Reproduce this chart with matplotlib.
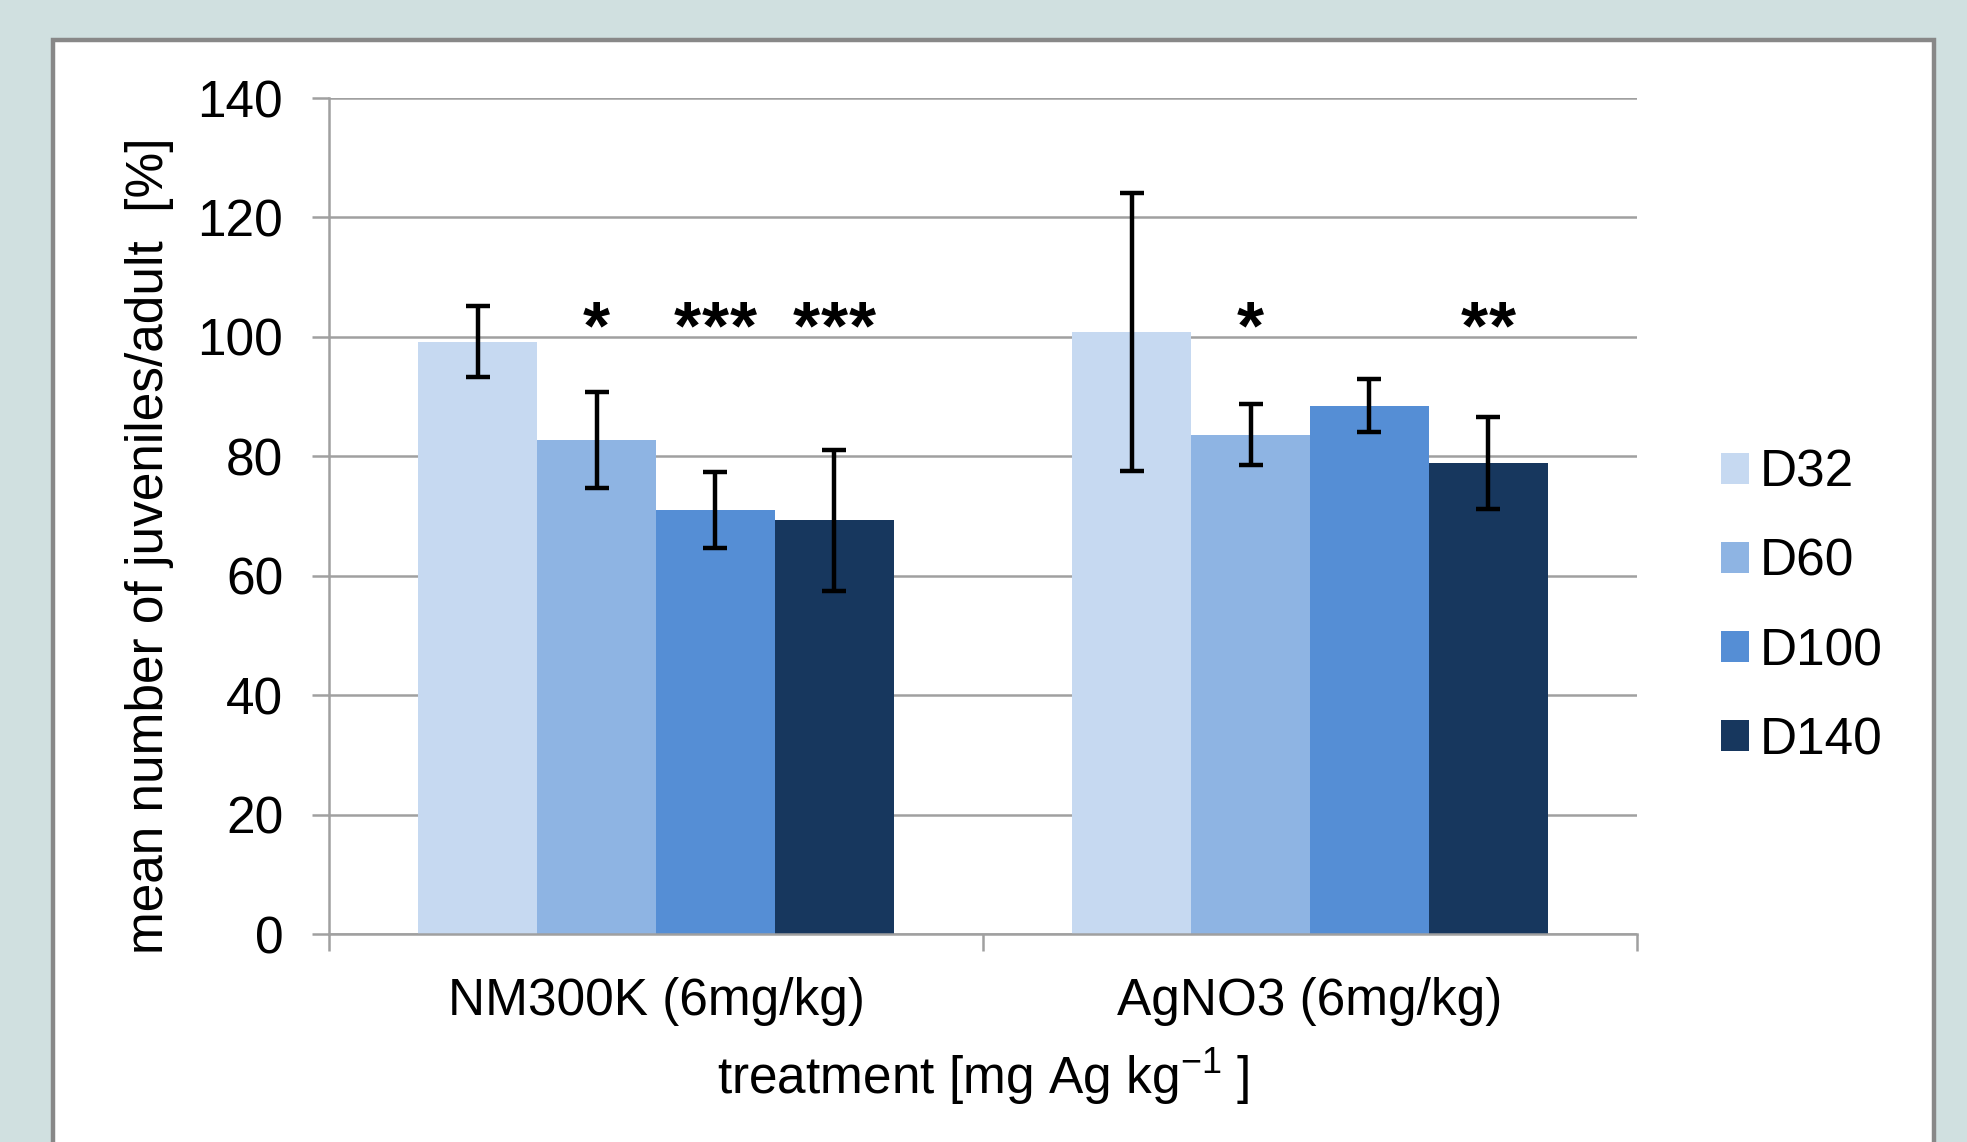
import numpy as np
import matplotlib.pyplot as plt
from matplotlib.patches import Rectangle

plt.rcParams['font.family'] = ['Liberation Sans', 'DejaVu Sans']

# data
treatments = ['NM300K (6mg/kg)', 'AgNO3 (6mg/kg)']
series = ['D32', 'D60', 'D100', 'D140']
means = {
    'D32': [99.2, 100.8],
    'D60': [82.7, 83.6],
    'D100': [71.0, 88.5],
    'D140': [69.3, 78.9],
}
errors = {
    'D32': [6.0, 23.3],
    'D60': [8.0, 5.1],
    'D100': [6.3, 4.4],
    'D140': [11.8, 7.7],
}
# significance marks, per treatment, per series
stars = {
    'D32': ['', ''],
    'D60': ['*', '*'],
    'D100': ['***', ''],
    'D140': ['***', '**'],
}
star_level = 98
yticks = [0, 20, 40, 60, 80, 100, 120, 140]

colors = ['#C6D9F1', '#8EB4E3', '#558ED5', '#17375E']
grey = '#A0A0A0'

W, H = 1967, 1142
fig = plt.figure(figsize=(W / 100, H / 100), dpi=100, facecolor='#D0E0E0')

# white panel with grey border
panel = Rectangle((53 / W, -0.05), (1934 - 53) / W, (H - 40) / H + 0.05,
                  transform=fig.transFigure, facecolor='white',
                  edgecolor='#888888', linewidth=3.2, zorder=-10)
fig.patches.append(panel)

ax = fig.add_axes([329 / W, 1 - 934 / H, (1637 - 329) / W, (934 - 98) / H])
ax.set_facecolor('none')

x = np.arange(len(treatments))
w = 1 / 5.5
step = 20  # spacing between asterisks, points
for i, s in enumerate(series):
    pos = x + (i - 1.5) * w
    ax.bar(pos, means[s], w, color=colors[i], label=s, zorder=2)
    ax.errorbar(pos, means[s], yerr=errors[s], fmt='none', ecolor='black',
                elinewidth=3.2, capsize=8.5, capthick=3.2, zorder=3)
    for p, txt in zip(pos, stars[s]):
        n = len(txt)
        for k, ch in enumerate(txt):
            ax.annotate(ch, (p, star_level),
                        xytext=((k - (n - 1) / 2) * step, 0),
                        textcoords='offset points', ha='center',
                        va='baseline', fontsize=50, fontweight='bold',
                        zorder=4)

ax.set_xlim(-0.5, 1.5)
ax.set_ylim(0, 140)
ax.set_yticks(yticks)
ax.tick_params(axis='y', labelsize=37, length=12, width=1.8, color=grey,
               pad=21, direction='out')
ax.set_xticks([-0.5, 0.5, 1.5])
ax.set_xticklabels([])
ax.tick_params(axis='x', which='major', length=12, width=1.8, color=grey,
               direction='out')
ax.set_xticks(x, minor=True)
ax.set_xticklabels(treatments, minor=True)
ax.tick_params(axis='x', which='minor', length=0, labelsize=37, pad=31)

ax.yaxis.grid(True, color=grey, linewidth=1.8, zorder=1)
ax.set_axisbelow(True)
for side in ['top', 'right']:
    ax.spines[side].set_visible(False)
for side in ['left', 'bottom']:
    ax.spines[side].set_color(grey)
    ax.spines[side].set_linewidth(1.8)

fig.text(983 / W, 1 - 1077 / H, 'treatment [mg Ag kg$^{\\mathregular{-1}}$ ]',
         ha='center', va='center', fontsize=37)
fig.text(150 / W, 1 - 546 / H, 'mean number of juveniles/adult  [%]',
         ha='center', va='center', rotation=90, fontsize=37)

ax.legend(loc='center left', bbox_to_anchor=(1721 / W, 1 - 607 / H),
          bbox_transform=fig.transFigure, frameon=False, fontsize=37,
          handlelength=0.55, handleheight=0.55, handletextpad=0.2,
          labelspacing=0.78, borderpad=0, borderaxespad=0)

fig.savefig('out.png', dpi=100, facecolor=fig.get_facecolor())
